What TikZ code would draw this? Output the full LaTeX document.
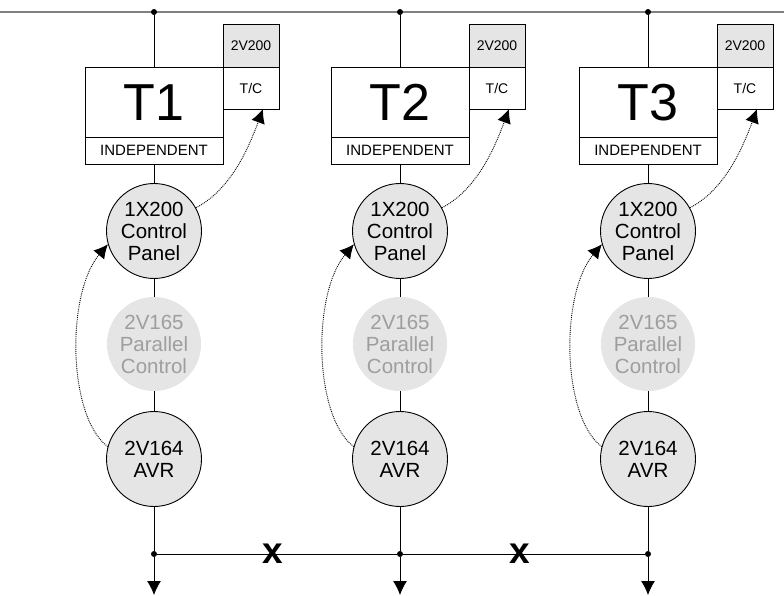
\documentclass[tikz,border=0pt]{standalone}
\usepackage{fontspec}
\setmainfont{Liberation Sans}
\usetikzlibrary{arrows.meta}
\tikzset{
    trafo/.style={draw,line width=0.9pt,fill=white,inner sep=0pt,minimum width=138pt},
    smallbox/.style={draw,line width=0.9pt,inner sep=0pt,minimum width=56pt,font=\fontsize{14}{16}\selectfont},
    panel/.style={circle,draw,line width=0.9pt,fill=black!10,inner sep=0pt,minimum size=95pt,align=center,font=\fontsize{20.5}{22}\selectfont},
    ghost/.style={circle,fill=black!10,text=black!38,inner sep=0pt,minimum size=94pt,align=center,font=\fontsize{20.5}{22}\selectfont},
    wire/.style={line width=0.9pt},
    dotnode/.style={circle,fill=black,inner sep=0pt,minimum size=6pt},
    linkarrow/.style={densely dotted,line width=0.9pt,-{Latex[length=14pt,width=14pt]}},
    feeder/.style={line width=0.9pt,-{Latex[length=14pt,width=14pt]}},
    openmark/.style={inner sep=0pt,font=\fontsize{37}{37}\selectfont\bfseries}
}
\begin{document}
\begin{tikzpicture}[x=1pt,y=-1pt]
    \useasboundingbox (0,0) rectangle (784,596);
    \coordinate (busl) at (0,12);
    \coordinate (busr) at (784,12);
    \draw[line width=2pt,black!50] (busl) -- (busr);
    \foreach \n/\cx in {1/154,2/400,3/648} {
        \node[dotnode] at (\cx,12) (top\n) {};
        \node[trafo,minimum height=70.5pt,font=\fontsize{52}{52}\selectfont] at (\cx,102.25) (t\n) {T\n};
        \node[trafo,minimum height=26.5pt,font=\fontsize{15}{17}\selectfont] at (\cx,150.75) (mode\n) {INDEPENDENT};
        \node[smallbox,fill=black!10,minimum height=43pt] at (\cx+97,45.5) (rel\n) {2V200};
        \node[smallbox,fill=white,minimum height=42pt] at (\cx+97,88) (tc\n) {T/C};
        \node[panel] at (\cx,231) (ctrl\n) {1X200\\Control\\Panel};
        \node[ghost] at (\cx,344) (par\n) {2V165\\Parallel\\Control};
        \node[panel] at (\cx,459) (avr\n) {2V164\\AVR};
        \node[dotnode] at (\cx,554) (low\n) {};
        \coordinate (out\n) at (\cx,595);
        \coordinate (tip\n) at (\cx+109,109);
        \draw[wire] (top\n) -- (t\n);
        \draw[wire] (mode\n) -- (ctrl\n);
        \draw[wire] (ctrl\n) -- (par\n);
        \draw[wire] (par\n) -- (avr\n);
        \draw[wire] (avr\n) -- (low\n);
        \draw[feeder] (low\n) -- (out\n);
        \draw[linkarrow] (ctrl\n.29) .. controls +(35,-18) and +(-14,38) .. (tip\n);
        \draw[linkarrow] (avr\n.165) .. controls +(-40,-30) and +(-42,50) .. (ctrl\n.196);
    }
    \draw[wire] (low1) -- (low2) -- (low3);
    \node[openmark] at (273,554) (open1) {x};
    \node[openmark] at (520,554) (open2) {x};
\end{tikzpicture}
\end{document}
